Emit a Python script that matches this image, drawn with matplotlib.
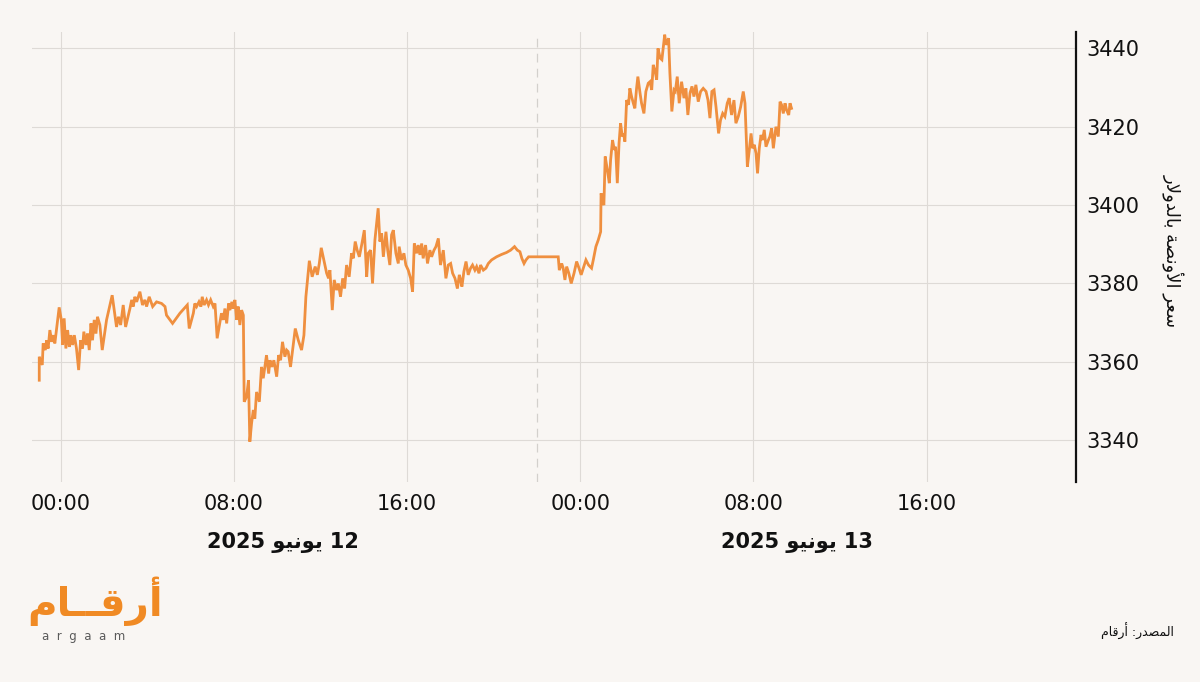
import numpy as np
import matplotlib
matplotlib.use('Agg')
import matplotlib.pyplot as plt
import matplotlib.transforms as mtransforms

plt.rcParams['font.family'] = ['DejaVu Sans']

#  ---------------------------------------------------------  #
#  data: gold price (USD/oz), hours from 00:00 on 12 June     #
#  ---------------------------------------------------------  #
hours_jun12 = [
    -1.00, -1.00, -0.86, -0.82, -0.72, -0.66, -0.59, -0.51, -0.42, -0.35, -0.28, -0.08, 0.02, 0.08, 0.15, 0.23, 0.31, 0.39, 0.46, 0.54,
    0.62, 0.72, 0.82, 0.91, 1.00, 1.06, 1.16, 1.23, 1.31, 1.39, 1.46, 1.54, 1.62, 1.69, 1.80, 1.91, 2.11, 2.37, 2.57, 2.66,
    2.76, 2.88, 2.99, 3.10, 3.19, 3.27, 3.34, 3.42, 3.50, 3.65, 3.77, 3.88, 3.96, 4.08, 4.24, 4.42, 4.65, 4.81, 4.88, 5.16,
    5.50, 5.84, 5.93, 6.12, 6.19, 6.27, 6.38, 6.47, 6.53, 6.62, 6.73, 6.82, 6.92, 7.04, 7.12, 7.22, 7.35, 7.42, 7.50, 7.58,
    7.66, 7.75, 7.81, 7.90, 7.96, 8.04, 8.12, 8.19, 8.27, 8.35, 8.43, 8.47, 8.58, 8.67, 8.73, 8.81, 8.89, 8.96, 9.04, 9.17,
    9.27, 9.35, 9.50, 9.60, 9.66, 9.75, 9.84, 9.97, 10.06, 10.15, 10.24, 10.35, 10.43, 10.50, 10.61, 10.83, 10.97, 11.12, 11.23, 11.32,
    11.48, 11.61, 11.75, 11.85, 11.94, 12.03, 12.15, 12.28, 12.37, 12.43, 12.54, 12.63, 12.74, 12.82, 12.92, 13.02, 13.11, 13.20, 13.32, 13.43,
    13.51, 13.60, 13.69, 13.79, 13.91, 14.02, 14.13, 14.20, 14.31, 14.40, 14.51, 14.66, 14.74, 14.82, 14.90, 15.02, 15.10, 15.20, 15.28, 15.36,
    15.48, 15.59, 15.63, 15.74, 15.85, 15.94, 16.05, 16.16, 16.25, 16.33, 16.44, 16.51, 16.59, 16.67, 16.74, 16.85, 16.94, 17.05, 17.13, 17.24,
    17.33, 17.44, 17.54, 17.67, 17.79, 17.90, 18.01, 18.10, 18.21, 18.32, 18.41, 18.47, 18.53, 18.62, 18.72, 18.82, 18.93, 19.02, 19.13, 19.21,
    19.32, 19.39, 19.52, 19.64, 19.75, 19.90, 20.13, 20.36, 20.59, 20.78, 20.96, 21.09, 21.21, 21.30, 21.40, 21.49, 21.61,
]
price_jun12 = [
    3355.3, 3361.3, 3359.2, 3364.7, 3363.0, 3365.5, 3363.4, 3368.1, 3365.1, 3366.8, 3364.7, 3373.9, 3370.7, 3364.3, 3371.1, 3363.4, 3368.1, 3363.8, 3366.8, 3364.3,
    3366.8, 3363.4, 3357.9, 3365.5, 3363.4, 3367.7, 3364.3, 3367.2, 3363.0, 3369.8, 3365.5, 3370.7, 3367.2, 3371.5, 3369.4, 3363.0, 3370.7, 3377.0, 3368.9, 3371.5,
    3369.4, 3374.5, 3368.9, 3371.5, 3373.6, 3375.8, 3374.1, 3376.6, 3375.3, 3377.9, 3374.5, 3375.8, 3374.1, 3376.6, 3374.1, 3375.3, 3374.9, 3374.1, 3371.9, 3369.8,
    3372.4, 3374.5, 3368.5, 3372.4, 3374.9, 3374.1, 3375.3, 3374.1, 3376.6, 3374.5, 3375.8, 3374.5, 3375.8, 3374.1, 3374.9, 3366.0, 3370.2, 3372.4, 3370.7, 3373.6,
    3369.8, 3374.9, 3373.2, 3375.3, 3373.6, 3375.8, 3370.7, 3374.1, 3369.4, 3373.2, 3371.9, 3349.8, 3351.1, 3355.3, 3339.6, 3344.3, 3347.7, 3345.5, 3352.3, 3349.8,
    3358.7, 3355.8, 3361.7, 3357.0, 3360.4, 3358.7, 3360.4, 3356.2, 3361.7, 3360.4, 3365.1, 3361.3, 3363.0, 3362.6, 3358.7, 3368.5, 3365.5, 3363.0, 3366.8, 3376.6,
    3385.8, 3381.7, 3384.3, 3382.2, 3385.1, 3389.1, 3386.0, 3382.6, 3381.3, 3383.4, 3373.2, 3380.9, 3378.3, 3380.0, 3376.6, 3381.3, 3378.7, 3384.7, 3381.7, 3387.7,
    3386.4, 3390.7, 3388.5, 3386.8, 3390.2, 3393.6, 3381.7, 3387.7, 3388.5, 3380.0, 3391.1, 3399.2, 3390.7, 3392.8, 3386.8, 3393.2, 3388.5, 3384.7, 3392.4, 3393.6,
    3387.7, 3385.1, 3389.4, 3386.0, 3387.7, 3384.7, 3383.4, 3381.3, 3377.9, 3390.2, 3387.7, 3389.8, 3387.3, 3390.2, 3386.4, 3389.8, 3385.1, 3388.5, 3386.8, 3388.5,
    3389.4, 3391.5, 3384.7, 3388.5, 3381.3, 3384.7, 3385.1, 3382.6, 3381.3, 3378.7, 3382.2, 3380.9, 3379.2, 3383.0, 3385.6, 3382.2, 3383.9, 3384.7, 3383.4, 3384.3,
    3382.6, 3384.7, 3383.4, 3383.9, 3385.1, 3386.0, 3386.8, 3387.4, 3387.9, 3388.5, 3389.4, 3388.5, 3388.1, 3386.4, 3385.1, 3386.0, 3386.8,
]
hours_jun13 = [
    22.98, 23.03, 23.14,
    23.21, 23.29, 23.37, 23.47, 23.58, 23.71, 23.83, 23.94, 24.04, 24.14, 24.26, 24.38, 24.52, 24.60, 24.72, 24.83, 24.94, 24.96, 25.03, 25.09,
    25.15, 25.25, 25.34, 25.40, 25.49, 25.57, 25.63, 25.71, 25.79, 25.86, 25.94, 26.00, 26.06, 26.14, 26.23, 26.29, 26.37, 26.45, 26.52, 26.60,
    26.66, 26.76, 26.83, 26.94, 27.03, 27.14, 27.22, 27.30, 27.37, 27.46, 27.53, 27.59, 27.69, 27.77, 27.90, 27.96, 28.02, 28.08, 28.14, 28.23,
    28.33, 28.39, 28.48, 28.57, 28.68, 28.79, 28.88, 28.97, 29.07, 29.16, 29.25, 29.34, 29.45, 29.56, 29.68, 29.81, 29.90, 29.99, 30.08, 30.18,
    30.27, 30.39, 30.48, 30.58, 30.68, 30.79, 30.88, 30.99, 31.10, 31.19, 31.30, 31.41, 31.53, 31.61, 31.72, 31.81, 31.89, 31.96, 32.04, 32.12,
    32.19, 32.27, 32.35, 32.42, 32.50, 32.58, 32.69, 32.76, 32.84, 32.92, 33.04, 33.15, 33.23, 33.30, 33.38, 33.46, 33.53, 33.63, 33.69, 33.76,
]
price_jun13 = [
    3386.8, 3383.4, 3385.1,
    3383.9, 3380.9, 3384.3, 3382.6, 3380.0, 3382.6, 3385.6, 3383.9, 3382.2, 3383.9, 3386.0, 3384.7, 3383.9, 3386.0, 3389.4, 3391.1, 3393.2, 3403.0, 3400.9, 3400.0,
    3412.4, 3409.0, 3405.6, 3411.5, 3416.6, 3414.1, 3414.9, 3405.6, 3415.8, 3420.9, 3417.5, 3418.3, 3416.2, 3426.8, 3425.6, 3429.8, 3427.7, 3426.0, 3424.7, 3429.8,
    3432.8, 3428.6, 3426.0, 3423.4, 3429.0, 3431.1, 3431.5, 3429.4, 3435.8, 3434.1, 3432.0, 3440.0, 3437.5, 3437.1, 3443.5, 3440.9, 3441.7, 3442.6, 3433.7, 3423.9,
    3429.4, 3429.0, 3432.8, 3426.0, 3431.5, 3427.3, 3429.8, 3423.0, 3428.6, 3430.3, 3427.7, 3430.7, 3426.4, 3429.0, 3429.8, 3429.0, 3426.8, 3422.2, 3429.0, 3429.4,
    3425.1, 3418.3, 3421.7, 3423.4, 3422.6, 3426.0, 3427.3, 3423.0, 3426.8, 3420.9, 3422.6, 3425.1, 3429.0, 3426.0, 3409.8, 3414.1, 3418.3, 3414.5, 3415.4, 3413.2,
    3408.1, 3414.5, 3417.9, 3416.6, 3419.2, 3414.9, 3416.6, 3417.5, 3419.6, 3414.5, 3420.0, 3417.5, 3426.4, 3425.6, 3423.4, 3426.0, 3424.3, 3423.0, 3426.0, 3424.7,
]

x_ticks = [0, 8, 16, 24, 32, 40]
x_labels = ['00:00', '08:00', '16:00', '00:00', '08:00', '16:00']
y_ticks = [3340, 3360, 3380, 3400, 3420, 3440]
session_break = 22
date_pos = [10.25, 34.0]
date_labels = ['12 يونيو 2025', '13 يونيو 2025']
y_title = 'سعر الأونصة بالدولار'
source_text = 'المصدر: أرقام'
logo_text = 'أرقــام'

#  ---------------------------------------------------------  #
#  tiny arabic shaper (matplotlib has no shaping / bidi)      #
#  ---------------------------------------------------------  #
FORMS = {
    'ا': (0xFE8D, 0xFE8E), 'أ': (0xFE83, 0xFE84), 'ة': (0xFE93, 0xFE94),
    'د': (0xFEA9, 0xFEAA), 'ر': (0xFEAD, 0xFEAE), 'و': (0xFEED, 0xFEEE),
    'ب': (0xFE8F, 0xFE90, 0xFE91, 0xFE92), 'ت': (0xFE95, 0xFE96, 0xFE97, 0xFE98),
    'س': (0xFEB1, 0xFEB2, 0xFEB3, 0xFEB4), 'ص': (0xFEB9, 0xFEBA, 0xFEBB, 0xFEBC),
    'ع': (0xFEC9, 0xFECA, 0xFECB, 0xFECC), 'ق': (0xFED5, 0xFED6, 0xFED7, 0xFED8),
    'ل': (0xFEDD, 0xFEDE, 0xFEDF, 0xFEE0), 'م': (0xFEE1, 0xFEE2, 0xFEE3, 0xFEE4),
    'ن': (0xFEE5, 0xFEE6, 0xFEE7, 0xFEE8), 'ي': (0xFEF1, 0xFEF2, 0xFEF3, 0xFEF4),
    'ـ': (0x640, 0x640, 0x640, 0x640),
}
LAMALEF = {'ا': (0xFEFB, 0xFEFC), 'أ': (0xFEF7, 0xFEF8)}


def shape_word(w):
    units = []
    i = 0
    while i < len(w):
        if w[i] == 'ل' and i + 1 < len(w) and w[i + 1] in LAMALEF:
            units.append(LAMALEF[w[i + 1]])
            i += 2
        elif w[i] in FORMS:
            units.append(FORMS[w[i]])
            i += 1
        else:
            units.append((ord(w[i]),))
            i += 1
    out = ''
    for k, f in enumerate(units):
        if len(f) == 1:
            out += chr(f[0])
            continue
        prev = k > 0 and len(units[k - 1]) == 4
        nxt = len(f) == 4 and k + 1 < len(units) and len(units[k + 1]) > 1
        idx = {(False, False): 0, (True, False): 1, (False, True): 2, (True, True): 3}[(prev, nxt)]
        out += chr(f[idx])
    return out


def ar(s):
    ''' arabic-only string -> shaped, visual (left to right) order '''
    return ' '.join(shape_word(w) for w in s.split(' '))[::-1]


def ar_date(s):
    day, month, year = s.split(' ')
    return '%s %s %s' % (year, ar(month), day)


def ar_source(s):
    a, b = s.split(': ')
    return '%s :%s' % (ar(b), ar(a))


#  ---------------------------------------------------------  #
#  figure                                                     #
#  ---------------------------------------------------------  #
bg = '#f9f6f3'
fig = plt.figure(figsize=(12, 6.82), dpi=100, facecolor=bg)
ax = fig.add_axes([0.0264, 0.2937, 0.87, 0.6589])
ax.set_facecolor(bg)

hours = np.concatenate([hours_jun12, hours_jun13])
price = np.concatenate([price_jun12, price_jun13])
ax.plot(hours, price, color='#ef8f3f', lw=2.0, solid_joinstyle='miter', zorder=3)

ax.axvline(session_break, color='#d3d0cc', lw=0.9, ls=(0, (7, 5)), zorder=1)

ax.set_xlim(-1.35, 46.89)
ax.set_ylim(3329.4, 3444.1)
ax.set_xticks(x_ticks)
ax.set_xticklabels(x_labels)
ax.set_yticks(y_ticks)
ax.grid(True, color='#dedad6', lw=0.8, zorder=0)
ax.set_axisbelow(True)

for s in ['left', 'top', 'bottom']:
    ax.spines[s].set_visible(False)
ax.spines['right'].set_color('#111111')
ax.spines['right'].set_linewidth(1.6)
ax.yaxis.tick_right()
ax.tick_params(axis='y', length=0, pad=8, labelsize=15, labelcolor='#111111')
ax.tick_params(axis='x', length=0, pad=9, labelsize=15, labelcolor='#111111')
for lab in ax.get_yticklabels():
    lab.set_va('center_baseline')

# date labels under the time ticks
trans = mtransforms.blended_transform_factory(ax.transData, fig.transFigure)
for xp, lab in zip(date_pos, date_labels):
    ax.text(xp, 0.204, ar_date(lab), transform=trans, ha='center', va='center',
            fontsize=15, fontweight='bold', color='#111111')

# y title on the right
fig.text(0.977, 0.633, ar(y_title), rotation=270, ha='center', va='center',
         fontsize=13, color='#111111')

# source
fig.text(0.9475, 0.074, ar_source(source_text), ha='center', va='center',
         fontsize=9, color='#111111')

# logo
fig.text(0.079, 0.118, ar(logo_text), ha='center', va='center',
         fontsize=29, fontweight='bold', color='#f08a24')
fig.text(0.07, 0.066, 'a  r  g  a  a  m', ha='center', va='center',
         fontsize=8.5, color='#5a5a5a')

fig.savefig('out.png', dpi=100, facecolor=bg)
